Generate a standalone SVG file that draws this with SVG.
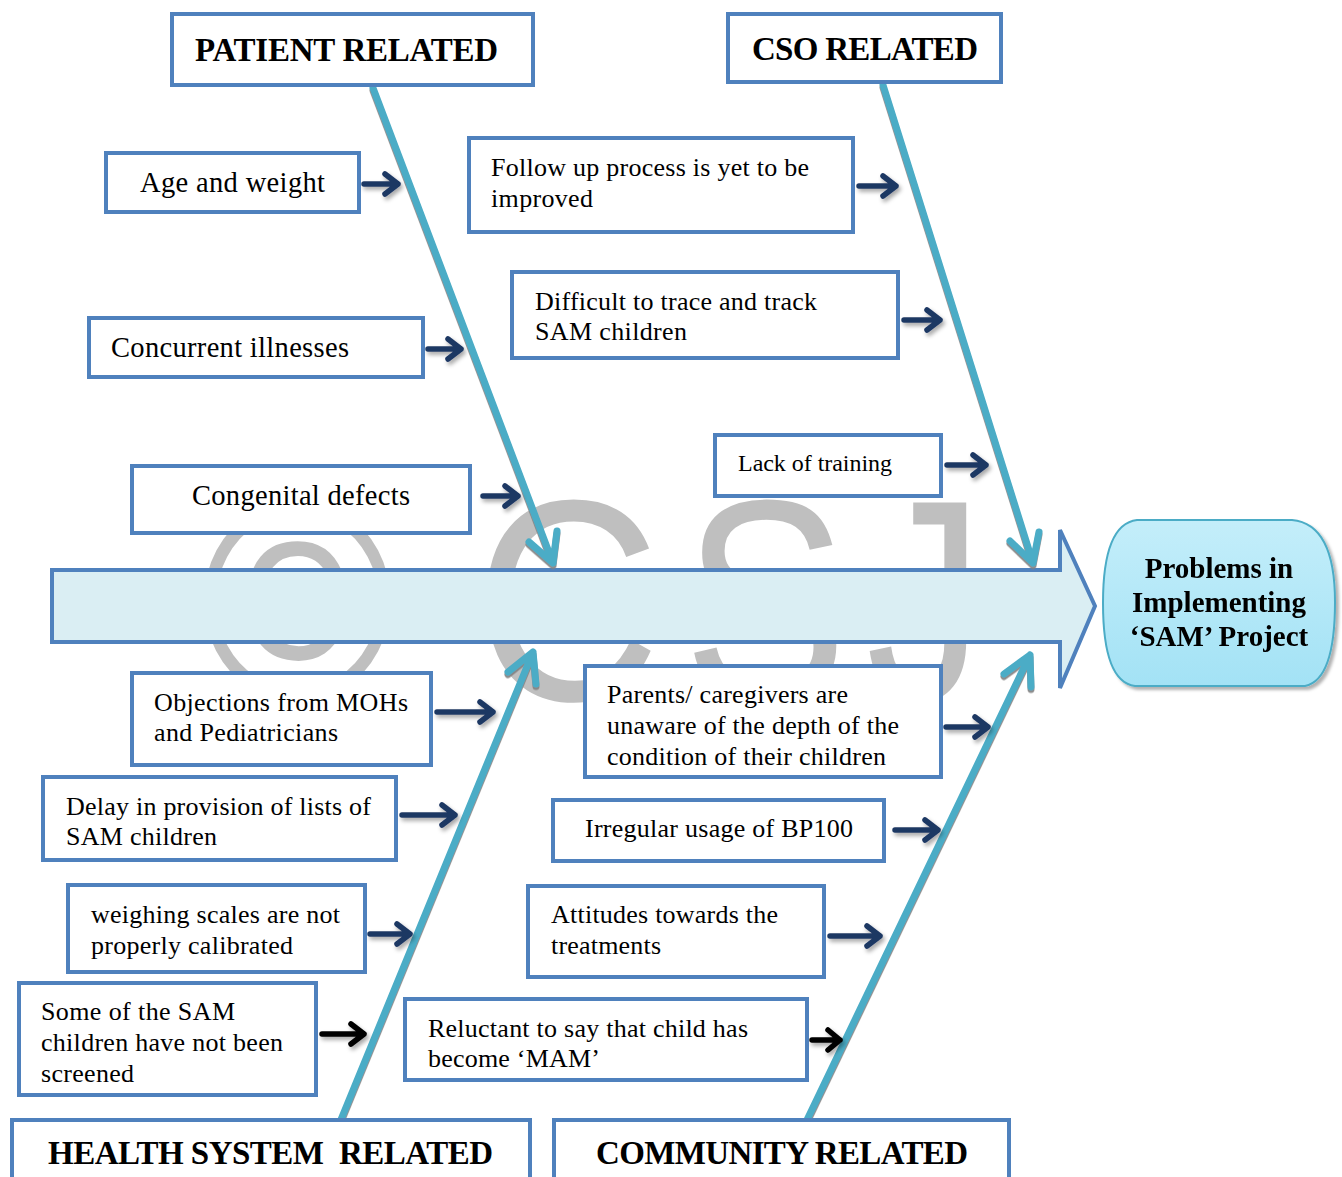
<svg xmlns="http://www.w3.org/2000/svg" width="1342" height="1177" viewBox="0 0 1342 1177">
<style>
.box{fill:#fff;stroke:#4f81bd;stroke-width:4}
.t{font-family:"Liberation Serif","Times New Roman",serif;font-size:26px;fill:#000}
.big{font-size:28.5px}
.sm{font-size:24px}
.cat{font-family:"Liberation Serif","Times New Roman",serif;font-size:33px;font-weight:bold;fill:#000}
.head{font-family:"Liberation Serif","Times New Roman",serif;font-size:29px;font-weight:bold;fill:#000}
.wm{font-family:"Liberation Sans",Arial,sans-serif;font-size:287px;fill:#bfbfbf}
.bone{fill:none;stroke:#4bacc6;stroke-width:7;stroke-linecap:round;stroke-linejoin:round}
.arr{fill:none;stroke:#1f3864;stroke-width:5.5;stroke-linecap:round;stroke-linejoin:round}
.arrk{fill:none;stroke:#000;stroke-width:5.5;stroke-linecap:round;stroke-linejoin:round}
</style>
<defs>
<filter id="bsh" x="-20%" y="-20%" width="140%" height="140%"><feDropShadow dx="0" dy="2.5" stdDeviation="0.6" flood-color="#808080" flood-opacity="0.9"/></filter>
<filter id="ash" x="-30%" y="-60%" width="160%" height="220%"><feDropShadow dx="2" dy="3" stdDeviation="2" flood-color="#000" flood-opacity="0.35"/></filter>
<filter id="hsh" x="-10%" y="-10%" width="120%" height="120%"><feDropShadow dx="3" dy="3" stdDeviation="1.5" flood-color="#000" flood-opacity="0.3"/></filter>
<linearGradient id="hg" x1="0" y1="0" x2="0" y2="1"><stop offset="0" stop-color="#c4eefa"/><stop offset="1" stop-color="#a3e2f5"/></linearGradient>
</defs>
<rect width="1342" height="1177" fill="#fff"/>
<g id="watermark">
<text class="wm" transform="translate(200,700) scale(0.92,1)">©</text>
<text class="wm" transform="translate(474,700) scale(0.9,1)">C</text>
<text class="wm" transform="translate(683,700) scale(0.86,1)">S</text>
<text class="wm" transform="translate(866,700) scale(0.82,1)">J</text>
</g>

<g id="spine">
<path d="M52,570 H1060 V530 L1095,606 L1060,688 V642 H52 Z" fill="#daeef3" stroke="#4f81bd" stroke-width="4"/>
</g>

<g id="head" filter="url(#hsh)">
<path d="M1137,520 L1292,520 Q1335,524 1335,602 Q1335,680 1305,686 L1135,686 Q1103,682 1103,603 Q1103,524 1137,520 Z" fill="url(#hg)" stroke="#4bacc6" stroke-width="2"/>
<text class="head" x="1219" y="578" text-anchor="middle">Problems in</text>
<text class="head" x="1219" y="612" text-anchor="middle">Implementing</text>
<text class="head" x="1219" y="646" text-anchor="middle">‘SAM’ Project</text>
</g>

<g id="connectors">
<g filter="url(#bsh)">
<path class="bone" d="M373,88 L553,563 M529,542 L553,563 L557,531"/>
<path class="bone" d="M883,85 L1033,563 M1010,541 L1033,563 L1039,532"/>
<path class="bone" d="M340,1122 L533,652 M508,672 L533,652 L536,684"/>
<path class="bone" d="M806,1122 L1030,655 M1004,674 L1030,655 L1031,687"/>
</g>
<g filter="url(#ash)">
<path class="arr" d="M364,184 H398 M385,174 L398,184 L385,194"/>
<path class="arr" d="M428,349 H461 M448,339 L461,349 L448,359"/>
<path class="arr" d="M483,496 H518 M505,486 L518,496 L505,506"/>
<path class="arr" d="M859,186 H896 M883,176 L896,186 L883,196"/>
<path class="arr" d="M904,320 H940 M927,310 L940,320 L927,330"/>
<path class="arr" d="M947,465 H986 M973,455 L986,465 L973,475"/>
<path class="arr" d="M437,712 H493 M480,702 L493,712 L480,722"/>
<path class="arr" d="M402,815 H455 M442,805 L455,815 L442,825"/>
<path class="arr" d="M370,934 H410 M397,924 L410,934 L397,944"/>
<path class="arrk" d="M322,1034 H364 M351,1024 L364,1034 L351,1044"/>
<path class="arr" d="M946,727 H988 M975,717 L988,727 L975,737"/>
<path class="arr" d="M895,830 H938 M925,820 L938,830 L925,840"/>
<path class="arr" d="M830,936 H880 M867,926 L880,936 L867,946"/>
<path class="arrk" d="M812,1040 H840 M828,1030 L840,1040 L828,1050"/>
</g>
</g>

<g id="cat-patient"><rect class="box" x="172" y="14" width="361" height="71"/><text class="cat" x="195" y="61" textLength="303">PATIENT RELATED</text></g>
<g id="cat-cso"><rect class="box" x="728" y="14" width="273" height="68"/><text class="cat" x="752" y="60" textLength="226">CSO RELATED</text></g>
<g id="cat-health"><rect class="box" x="12" y="1120" width="518" height="70"/><text class="cat" x="48" y="1164" textLength="445" xml:space="preserve">HEALTH SYSTEM  RELATED</text></g>
<g id="cat-community"><rect class="box" x="554" y="1120" width="455" height="70"/><text class="cat" x="596" y="1164" textLength="372">COMMUNITY RELATED</text></g>

<g id="age"><rect class="box" x="106" y="153" width="253" height="59"/><text class="t big" x="140" y="192" textLength="185">Age and weight</text></g>
<g id="concurrent"><rect class="box" x="89" y="318" width="334" height="59"/><text class="t big" x="111" y="357" textLength="238">Concurrent illnesses</text></g>
<g id="congenital"><rect class="box" x="132" y="466" width="338" height="67"/><text class="t big" x="192" y="505" textLength="218">Congenital defects</text></g>

<g id="followup"><rect class="box" x="469" y="138" width="384" height="94"/><text class="t" x="491" y="176" textLength="318">Follow up process is yet to be</text><text class="t" x="491" y="207" textLength="102">improved</text></g>
<g id="trace"><rect class="box" x="512" y="272" width="386" height="86"/><text class="t" x="535" y="310" textLength="282">Difficult to trace and track</text><text class="t" x="535" y="340" textLength="152">SAM children</text></g>
<g id="training"><rect class="box" x="715" y="435" width="226" height="61"/><text class="t sm" x="738" y="471" textLength="154">Lack of training</text></g>

<g id="objections"><rect class="box" x="132" y="673" width="299" height="92"/><text class="t" x="154" y="711" textLength="254">Objections from MOHs</text><text class="t" x="154" y="741" textLength="184">and Pediatricians</text></g>
<g id="delay"><rect class="box" x="43" y="777" width="353" height="83"/><text class="t" x="66" y="815" textLength="305">Delay in provision of lists of</text><text class="t" x="66" y="845" textLength="151">SAM children</text></g>
<g id="weighing"><rect class="box" x="68" y="885" width="297" height="87"/><text class="t" x="91" y="923" textLength="249">weighing scales are not</text><text class="t" x="91" y="954" textLength="202">properly calibrated</text></g>
<g id="screened"><rect class="box" x="19" y="983" width="297" height="112"/><text class="t" x="41" y="1020" textLength="194">Some of the SAM</text><text class="t" x="41" y="1051" textLength="242">children have not been</text><text class="t" x="41" y="1082" textLength="93">screened</text></g>

<g id="parents"><rect class="box" x="585" y="666" width="356" height="111"/><text class="t" x="607" y="703" textLength="241">Parents/ caregivers are</text><text class="t" x="607" y="734" textLength="292">unaware of the depth of the</text><text class="t" x="607" y="765" textLength="279">condition of their children</text></g>
<g id="bp100"><rect class="box" x="553" y="800" width="331" height="61"/><text class="t" x="585" y="837" textLength="268">Irregular usage of BP100</text></g>
<g id="attitudes"><rect class="box" x="528" y="886" width="296" height="91"/><text class="t" x="551" y="923" textLength="227">Attitudes towards the</text><text class="t" x="551" y="954" textLength="110">treatments</text></g>
<g id="reluctant"><rect class="box" x="405" y="999" width="402" height="81"/><text class="t" x="428" y="1037" textLength="320">Reluctant to say that child has</text><text class="t" x="428" y="1067" textLength="172">become ‘MAM’</text></g>
</svg>
